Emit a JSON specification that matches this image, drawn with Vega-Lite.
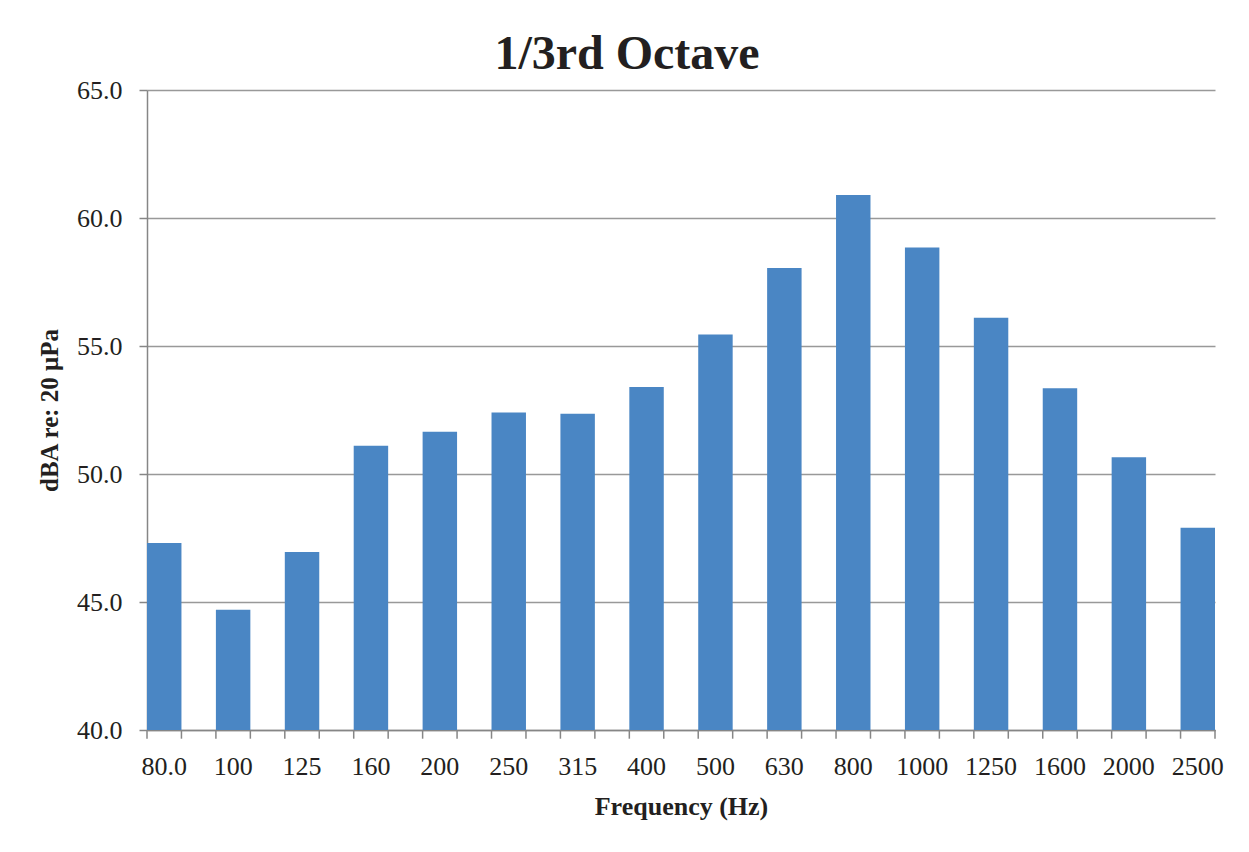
{
  "$schema": "https://vega.github.io/schema/vega-lite/v6.json",
  "autosize": {"type": "none"},
  "width": 1068,
  "height": 640,
  "padding": {"left": 147, "top": 90, "right": 34, "bottom": 122},
  "background": "white",
  "title": {
    "text": "1/3rd Octave",
    "font": "Liberation Serif",
    "fontSize": 48,
    "fontWeight": "bold",
    "color": "#231f20",
    "anchor": "middle",
    "dx": -54,
    "offset": -2
  },
  "data": {
    "values": [
      {"freq": "80.0", "dba": 47.3},
      {"freq": "100", "dba": 44.7},
      {"freq": "125", "dba": 46.95},
      {"freq": "160", "dba": 51.1},
      {"freq": "200", "dba": 51.65},
      {"freq": "250", "dba": 52.4},
      {"freq": "315", "dba": 52.35},
      {"freq": "400", "dba": 53.4},
      {"freq": "500", "dba": 55.45},
      {"freq": "630", "dba": 58.05},
      {"freq": "800", "dba": 60.9},
      {"freq": "1000", "dba": 58.85},
      {"freq": "1250", "dba": 56.1},
      {"freq": "1600", "dba": 53.35},
      {"freq": "2000", "dba": 50.65},
      {"freq": "2500", "dba": 47.9}
    ]
  },
  "encoding": {
    "x": {
      "field": "freq",
      "type": "ordinal",
      "sort": null,
      "scale": {"paddingInner": 0.5, "paddingOuter": 0},
      "axis": {
        "title": "Frequency (Hz)",
        "labelAngle": 0,
        "ticks": false,
        "tickSize": 0,
        "labelPadding": 23,
        "labelFont": "Liberation Serif",
        "labelFontSize": 26,
        "labelColor": "#231f20",
        "titleFont": "Liberation Serif",
        "titleFontSize": 26,
        "titleFontWeight": "bold",
        "titleColor": "#231f20",
        "titlePadding": 14,
        "domainColor": "#868686",
        "domainWidth": 1.5
      }
    }
  },
  "layer": [
    {
      "mark": {"type": "bar", "color": "#4a86c4"},
      "encoding": {
        "y": {
          "field": "dba",
          "type": "quantitative",
          "scale": {"domain": [40, 65], "nice": false, "zero": false},
          "axis": {
            "title": "dBA re: 20 μPa",
            "values": [40, 45, 50, 55, 60, 65],
            "format": ".1f",
            "labelFont": "Liberation Serif",
            "labelFontSize": 26,
            "labelColor": "#231f20",
            "labelPadding": 17,
            "tickSize": 8,
            "tickColor": "#868686",
            "tickWidth": 1.5,
            "domainColor": "#868686",
            "domainWidth": 1.5,
            "gridColor": "#999999",
            "gridWidth": 1.3,
            "titleFont": "Liberation Serif",
            "titleFontSize": 25,
            "titleFontWeight": "bold",
            "titleColor": "#231f20",
            "titlePadding": 14
          }
        },
        "y2": {"datum": 40}
      }
    },
    {
      "mark": {"type": "rule", "color": "#868686", "strokeWidth": 1.5},
      "encoding": {
        "x": {"field": "freq", "type": "ordinal", "sort": null, "bandPosition": 0},
        "y": {"datum": 40},
        "y2": {"datum": 39.66}
      }
    },
    {
      "mark": {"type": "rule", "color": "#868686", "strokeWidth": 1.5},
      "encoding": {
        "x": {"field": "freq", "type": "ordinal", "sort": null, "bandPosition": 1},
        "y": {"datum": 40},
        "y2": {"datum": 39.66}
      }
    }
  ],
  "config": {
    "view": {"stroke": null}
  }
}
